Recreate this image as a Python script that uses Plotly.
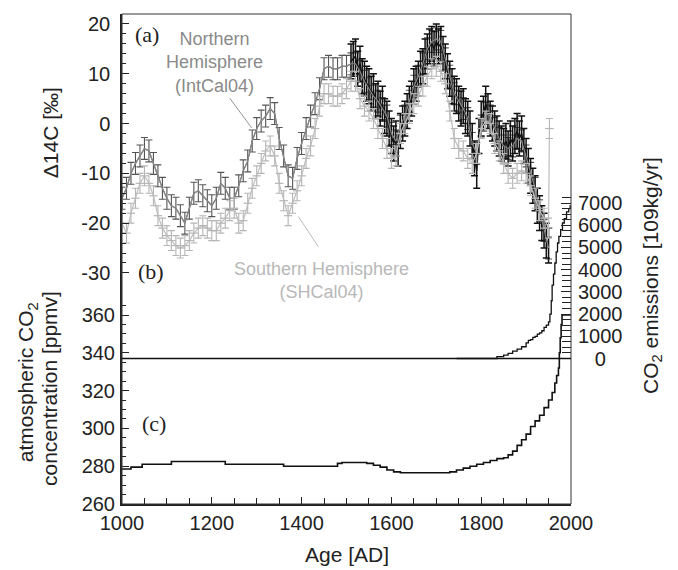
import plotly.graph_objects as go

# ---------------- data ----------------
nh_years = list(range(1000, 1951, 10))
nh_d14c = [-15, -13, -10, -8, -6.5, -5, -5.5, -8, -10.5, -13,
           -15, -16.5, -17, -18.5, -20, -17, -14, -13.5, -14.5, -15.5,
           -16.5, -15, -12, -13, -15, -15, -12.5, -9.5, -7.5, -3.5,
           -1, 0.5, 1.5, 3, 2, -3, -6.5, -10.5, -11, -7,
           -4, -1, 1.5, 4, 7, 11, 11.5, 11, 11, 11.5,
           11.5, 12, 12, 10.5, 8.5, 7, 5.5, 4.5, 3, 1.5,
           -2, -3.5, -0.5, 1.5, 4.5, 7.5, 9.5, 12, 15, 16.5,
           17, 16.5, 13, 9.5, 6, 4.5, 3, 1, -4, -6,
           -0.5, 2, 1.5, -1, -3, -4.5, -5, -4.5, -3, -3.5,
           -6.5, -10, -13, -17.5, -21.5, -25]
nh_err = 2.2

sh_years = list(range(1000, 1951, 10)) + [1952]
sh_d14c = [-20, -22, -18, -15, -12, -10.5, -12, -14.5, -18.5, -21,
           -22.5, -23.5, -24.5, -25, -24.5, -23.5, -22, -21, -20.5, -21,
           -21.5, -21.5, -20, -19, -17.5, -17, -20, -19.5, -16, -13,
           -10.5, -8, -5.5, -4.5, -6.5, -12, -15.5, -18.5, -16, -13.5,
           -10.5, -7, -4.5, -1, 3.5, 6, 6, 5.5, 5.5, 6,
           7, 8.5, 8.5, 5, 3.5, 2.5, 1, -1, -3, -5,
           -7, -6.5, -2, 0, 2, 4, 5.5, 7.5, 9.5, 11,
           11.5, 10.5, 8, 2.5, -3, -5, -5.5, -7, -8, -6,
           -1, 0.5, 0, -4, -5.5, -8, -10, -11, -10, -9.5,
           -10, -12.5, -15, -17.5, -19, -21, -1]
sh_err = 2.0

ann_years = list(range(1510, 1951, 5))
ann_d14c = [12.5, 13, 13.5, 11, 12, 9.5, 9, 8, 7.5, 6,
            6.5, 4.5, 5, 3, 4, 1.5, 1, -1, -2.5, -4,
            -3, -5, -1.5, 0, 1, 2.5, 4, 5, 7.5, 8,
            9, 11, 11.5, 13.5, 14.5, 15.5, 16, 15, 16.5, 15.5,
            16, 14, 12.5, 10.5, 9, 7.5, 6, 5.5, 4, 3,
            3.5, 1.5, 1, -1, -3.5, -7, -9.5, -2.5, 1, 2,
            4, 2.5, 1, 0, -1, -2, -3, -4, -4.5, -3.5,
            -5, -3, -4, -2.5, -1.5, -3, -2, -4.5, -6.5, -8.5,
            -10.5, -12.5, -14, -16.5, -18, -20, -21.5, -23.5, -24.5]
ann_err = 3.5

co2_years = [1000, 1020, 1045, 1110, 1230, 1360, 1480, 1490, 1545, 1560,
             1575, 1590, 1605, 1620, 1730, 1745, 1760, 1775, 1790, 1805,
             1820, 1835, 1850, 1860, 1870, 1880, 1890, 1900, 1910, 1920,
             1930, 1940, 1950, 1958, 1964, 1968, 1972, 1974, 1976, 1978,
             1980, 2000]
co2_ppmv = [278.5, 279.5, 281, 282.5, 281, 280, 281.5, 282, 281.5, 280.5,
            279.5, 278, 277, 276.5, 277, 278, 279, 280, 281, 282,
            283, 284, 284.5, 286, 288, 291, 294, 297, 301, 304,
            307, 311, 315, 319, 324, 328, 332, 340, 348, 355,
            360, 360]

em_years = [1745, 1835, 1850, 1860, 1870, 1880, 1890, 1900, 1905, 1910,
            1915, 1920, 1925, 1930, 1935, 1940, 1945, 1950, 1953, 1956,
            1958, 1961, 1964, 1967, 1970, 1973, 1977, 1981, 1985, 1990,
            1995, 1998]
em_values = [0, 80, 150, 230, 330, 420, 530, 700, 820, 850,
             950, 1000, 1100, 1150, 1250, 1400, 1500, 1650, 2000, 2600,
             3300, 3800, 4300, 4800, 5200, 5500, 5800, 6100, 6300, 6600,
             6750, 6900]

d14c_ticks = [-30, -20, -10, 0, 10, 20]
ppmv_ticks = [260, 280, 300, 320, 340, 360]
em_ticks = [0, 1000, 2000, 3000, 4000, 5000, 6000, 7000]
year_ticks = [1000, 1200, 1400, 1600, 1800, 2000]

FONT = "Liberation Sans, Arial, Helvetica, sans-serif"
SERIF = "Liberation Serif, Times New Roman, serif"

# right-axis labels are centred under each other in the original
em_ticktext = [("\u2007\u2008" + str(v)) if v == 0 else str(v) for v in em_ticks]

fig = go.Figure()

# IntCal04 northern hemisphere (with error bars)
fig.add_trace(go.Scatter(
    x=nh_years, y=nh_d14c, mode="lines", yaxis="y",
    line=dict(color="#5e5e5e", width=1.2),
    error_y=dict(type="constant", value=nh_err, color="#555555", thickness=1.1, width=3.5),
))
# annual data (dense black)
fig.add_trace(go.Scatter(
    x=ann_years, y=ann_d14c, mode="lines", yaxis="y",
    line=dict(color="#111111", width=1.4),
    error_y=dict(type="constant", value=ann_err, color="#111111", thickness=1.5, width=3.5),
))
# IntCal04 line drawn over the black data
fig.add_trace(go.Scatter(
    x=nh_years, y=nh_d14c, mode="lines", yaxis="y",
    line=dict(color="#8c8c8c", width=1.1),
))
# SHCal04
fig.add_trace(go.Scatter(
    x=sh_years, y=sh_d14c, mode="lines+markers", yaxis="y",
    line=dict(color="#bdbdbd", width=1.2),
    marker=dict(symbol="line-ew", size=6, line=dict(color="#b5b5b5", width=1.2)),
    error_y=dict(type="constant", value=sh_err, color="#b5b5b5", thickness=1.1, width=3.5),
))
fig.add_trace(go.Scatter(
    x=co2_years, y=co2_ppmv, mode="lines", yaxis="y2",
    line=dict(color="#111111", width=1.6, shape="hv"),
))
fig.add_trace(go.Scatter(
    x=em_years, y=em_values, mode="lines", yaxis="y3",
    line=dict(color="#111111", width=1.3, shape="hv"),
))

axis_common = dict(showgrid=False, zeroline=False, ticks="inside",
                   tickfont=dict(family=FONT, size=20, color="#222222"))

fig.update_layout(
    width=670, height=562,
    margin=dict(l=114, r=107, t=6, b=66),
    plot_bgcolor="white", paper_bgcolor="white",
    showlegend=False,
    font=dict(family=FONT, size=20, color="#222222"),
    xaxis=dict(range=[1000, 2000], tickmode="array", tickvals=year_ticks,
               ticklen=7, tickwidth=1.2, tickcolor="#222222",
               showline=True, linewidth=1.5, linecolor="#222222",
               minor=dict(tickmode="array",
                          tickvals=[v for v in range(1050, 2000, 50) if v % 200],
                          ticks="inside", ticklen=6, tickcolor="#222222"),
               **axis_common),
    yaxis=dict(range=[-76.4, 22], tickmode="array", tickvals=d14c_ticks,
               ticktext=[str(v) for v in d14c_ticks],
               ticklen=7, tickwidth=1.2, tickcolor="#222222",
               showline=True, linewidth=1.5, linecolor="#222222",
               ticklabelstandoff=6,
               minor=dict(tickmode="array",
                          tickvals=[v for v in range(-30, 22, 2) if v % 10],
                          ticks="inside", ticklen=4, tickcolor="#222222"),
               **axis_common),
    yaxis2=dict(range=[260, 519.3], overlaying="y", side="left",
                tickmode="array", tickvals=ppmv_ticks,
                ticklen=7, tickwidth=1.2, tickcolor="#222222",
                showline=False, ticklabelstandoff=6,
                minor=dict(tickmode="array",
                           tickvals=[v for v in range(265, 366, 5) if v % 20],
                           ticks="inside", ticklen=4, tickcolor="#222222"),
                **axis_common),
    yaxis3=dict(range=[-6551, 15511], overlaying="y", side="right",
                tickmode="array", tickvals=em_ticks, ticktext=em_ticktext,
                ticklen=10, tickwidth=1.2, tickcolor="#222222",
                showline=False, ticklabelstandoff=6,
                minor=dict(tickmode="array",
                           tickvals=[v for v in range(0, 7300, 250) if v % 1000],
                           ticks="inside", ticklen=9, tickcolor="#222222"),
                **axis_common),
)

# frame and zero line of the emissions panel
fig.add_shape(type="rect", xref="paper", yref="paper", x0=0, y0=0, x1=1, y1=1,
              line=dict(color="#333333", width=1), layer="above")
fig.add_shape(type="line", xref="paper", yref="y3", x0=0, x1=1, y0=0, y1=0,
              line=dict(color="#111111", width=1.5))

# label pointer lines
fig.add_shape(type="line", xref="x", yref="y", x0=1240, y0=5.1, x1=1289, y1=-0.9,
              line=dict(color="#777777", width=0.8))
fig.add_shape(type="line", xref="x", yref="y", x0=1393, y0=-18.7, x1=1437, y1=-24.7,
              line=dict(color="#aaaaaa", width=0.8))

annots = [
    dict(text="Δ14C [‰]", x=-0.160, y=0.757, textangle=-90, font=dict(size=21)),
    dict(text="atmospheric CO<sub>2</sub>", x=-0.211, y=0.249, textangle=-90, font=dict(size=21)),
    dict(text="concentration [ppmv]", x=-0.160, y=0.235, textangle=-90, font=dict(size=21)),
    dict(text="CO<sub>2</sub> emissions [109kg/yr]", x=1.180, y=0.467, textangle=-90, font=dict(size=21)),
    dict(text="Age [AD]", x=0.5, y=-0.104, font=dict(size=21)),
    dict(text="(a)", x=0.056, y=0.958, font=dict(family=SERIF, size=22)),
    dict(text="(b)", x=0.065, y=0.474, font=dict(family=SERIF, size=22)),
    dict(text="(c)", x=0.071, y=0.165, font=dict(family=SERIF, size=22)),
    dict(text="Northern<br>Hemisphere<br>(IntCal04)", x=0.207, y=0.9,
         font=dict(size=18, color="#8a8a8a")),
    dict(text="Southern Hemisphere<br>(SHCal04)", x=0.444, y=0.457,
         font=dict(size=18, color="#b8b8b8")),
]
for a in annots:
    fig.add_annotation(xref="paper", yref="paper", showarrow=False,
                       xanchor="center", yanchor="middle", **a)

fig.write_html("out.html")
